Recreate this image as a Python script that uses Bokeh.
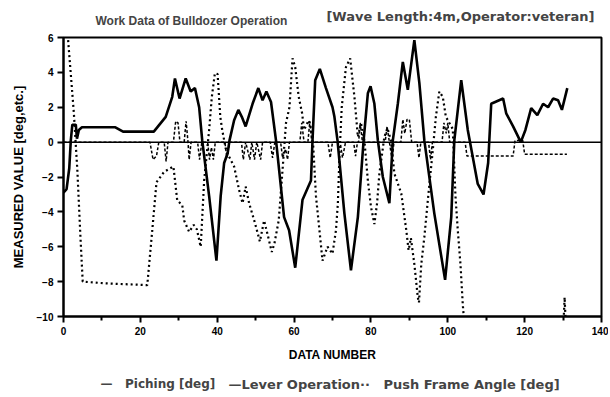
from bokeh.plotting import figure
from bokeh.models import Span, Title, Range1d, FixedTicker
from bokeh.embed import file_html
from bokeh.resources import INLINE

# ---- data ----
pich_x = [0, 0.8, 1.5, 1.9, 2.3, 3.2, 3.5, 4.0, 4.8, 13.5, 15.5, 23.5, 26.6, 28.3, 29.0, 30.2,
          31.8, 33.1, 34.2, 35.3, 36.1, 37.9, 39.8, 40.9, 41.8, 42.7, 43.2, 44.4, 45.5, 46.4,
          47.4, 49.2, 50.7, 51.8, 52.8, 54.0, 55.3, 57.4, 58.7, 60.3, 62.2, 64.4, 64.8, 65.5,
          66.7, 68.3, 70.0, 70.5, 71.3, 73.1, 74.8, 76.6, 78.1, 79.2, 79.9, 80.9, 81.8, 83.1,
          84.8, 85.7, 87.0, 88.3, 89.6, 91.3, 92.6, 93.9, 96.5, 99.3, 100.9, 101.7, 103.5,
          105.2, 107.8, 109.3, 110.5, 111.3, 114.4, 115.2, 117.0, 119.0, 120.2, 121.7, 123.3,
          124.8, 126.1, 127.4, 128.7, 129.7, 131.1]
pich_y = [-2.9, -2.7, -1.5, 0.1, 1.0, 1.0, 0.2, 0.7, 0.85, 0.85, 0.6, 0.6, 1.45, 2.6, 3.65, 2.5,
          3.65, 2.9, 3.1, 2.0, 0.1, -3.1, -6.8, -3.1, -1.2, -0.65, 0.1, 1.25, 1.85, 1.45,
          0.9, 2.2, 3.1, 2.4, 2.9, 2.3, 0.1, -4.3, -5.05, -7.2, -3.3, -2.2, 0.1, 3.55,
          4.2, 3.1, 2.0, 1.45, 0.1, -4.1, -7.35, -4.3, 0.1, 2.8, 3.2, 2.2, 0.1, -2.0,
          -3.5, 0.1, 2.2, 4.6, 3.0, 5.85, 3.4, 0.1, -4.1, -7.9, -4.3, 0.1, 3.55,
          0.7, -2.4, -3.0, -1.2, 2.2, 2.5, 1.65, 0.9, 0.0, 0.7, 1.95, 1.55,
          2.2, 2.0, 2.5, 2.4, 1.85, 3.1]

push_x = [1.2, 2.7, 3.6, 4.4, 5.0, 10.9, 21.8, 23.1, 24.2, 26.2, 28.6, 29.6, 30.9, 31.4, 32.7,
          33.9, 34.7, 35.7, 36.6, 37.9, 38.6, 39.4, 40.1, 40.8, 41.3, 42.2, 43.0, 44.4, 45.7,
          46.6, 47.4, 48.3, 49.9, 51.1, 52.2, 53.0, 54.2, 54.9, 56.0, 57.0, 57.9, 58.8, 59.6,
          60.3, 61.2, 62.1, 62.6, 63.8, 64.8, 65.7, 66.6, 67.4, 68.7, 70.0, 70.9, 71.4, 71.8,
          72.4, 73.5, 74.6, 75.7, 76.6, 77.4, 78.3, 79.2, 80.0, 80.9, 81.6, 82.2, 83.5, 84.3,
          85.2, 86.1, 87.9, 89.2, 89.8, 90.4, 91.3, 92.2, 92.5, 93.1, 93.9, 94.8, 96.1, 96.9,
          97.8, 98.7, 99.5, 100.4, 101.3, 102.0, 102.6, 103.3, 103.9, 104.5, 130.0, 130.4, 130.8]
push_y = [5.85, 1.65, -1.6, -5.4, -8.0, -8.1, -8.2, -5.05, -2.3, -1.7, -1.4, -3.35, -3.6, -4.5, -5.15,
          -4.75, -5.0, -6.0, -2.2, 0.7, 2.6, 3.95, 3.9, 1.45, 0.7, -0.35, -0.8, -1.4, -2.75,
          -3.5, -2.55, -3.5, -4.7, -5.7, -4.5, -5.2, -6.3, -5.8, -4.5, -1.6, 1.1, 2.0, 4.8,
          4.3, 2.6, 1.65, 0.7, 1.25, 0.5, -3.1, -5.05, -6.8, -6.0, -6.4, -5.05, -3.5, -0.85,
          2.0, 4.3, 4.8, 2.6, 0.3, 1.1, 0.1, -2.2, -3.7, -4.7, -3.5, -1.8, 0.3, 0.8,
          0.1, -1.8, -2.95, -5.05, -6.2, -5.5, -7.0, -8.9, -9.2, -7.0, -5.45, -3.35, -0.45, 1.45,
          2.9, 2.6, 1.45, 1.1, 0.75, -3.1, -5.05, -7.0, -9.3, -11.0, -11.0, -8.9, -11.0]

lever_x = [0, 22.5, 23.3, 24.2, 24.8, 26.2, 26.7, 27.2, 28.6, 29.2, 29.8, 30.3, 31.4, 31.9, 32.4,
           32.7, 33.2, 34.9, 35.4, 36.0, 37.5, 38.0, 38.5, 39.0, 39.5, 42.0, 42.5, 43.3, 46.3,
           46.8, 47.4, 48.5, 49.0, 49.7, 50.3, 51.3, 51.8, 53.8, 54.4, 55.0, 56.5, 57.0, 57.8,
           58.3, 58.8, 61.5, 62.0, 62.6, 63.6, 64.1, 64.6, 68.8, 69.4, 70.0, 72.0, 72.6, 73.4,
           75.5, 76.0, 76.5, 76.8, 77.2, 77.8, 83.7, 84.2, 84.8, 85.5, 86.0, 87.8, 88.3, 88.8,
           89.4, 90.0, 90.6, 92.0, 92.5, 93.0, 95.0, 95.5, 96.0, 98.5, 99.0, 99.6, 100.0, 100.5,
           104.5, 105.0, 117.0, 117.5, 119.5, 120.0, 131.0]
lever_y = [0, 0, -1.0, -0.8, 0, 0, -1.1, 0, 0, 1.2, 1.1, 0, 0, 1.2, 0,
           -1.0, 0, 0, -1.0, 0, 0, -1.0, -0.3, -1.0, 0, 0, -0.9, 0, 0,
           -1.0, 0, -1.0, 0, -1.0, 0, -1.0, 0, 0, -0.9, 0, 0, -0.9, -0.4,
           -1.0, 0, 0, 1.1, 0, 0, 1.2, 0, 0, -0.9, 0, 0, -0.9, 0,
           0, -0.8, 0, 0, 1.1, 0, 0, 0.9, 0, -1.0, 0, 0, 1.3, 0.5,
           1.3, 1.3, 0, 0, -0.9, 0, 0, -1.0, 0, 0, 1.1, 0.5, 1.1, 0,
           0, -0.8, -0.8, 0.1, 0.1, -0.7, -0.7]

x_ticks = [0, 20, 40, 60, 80, 100, 120, 140]
x_minor = [10, 30, 50, 70, 90, 110, 130]
y_ticks = [-10, -8, -6, -4, -2, 0, 2, 4, 6]

series_names = ["Piching [deg]", "Lever Operation", "Push Frame Angle [deg]"]

FONT = "Liberation Sans"
WIDE = "DejaVu Sans"
NB = "\u00a0"

p = figure(frame_width=538, frame_height=279, output_backend="svg", toolbar_location=None,
           x_range=Range1d(0, 140), y_range=Range1d(-10, 6),
           min_border_left=63, min_border_right=7, min_border_top=37, min_border_bottom=0)
p.grid.visible = False
p.outline_line_color = "black"
p.outline_line_width = 2
p.background_fill_color = "white"

for ax in (p.xaxis[0], p.yaxis[0]):
    ax.axis_line_width = 2
    ax.axis_line_color = "black"
    ax.major_tick_line_width = 2
    ax.major_tick_in = 0
    ax.major_tick_out = 6
    ax.minor_tick_in = 0
    ax.minor_tick_out = 4
    ax.minor_tick_line_width = 2
    ax.major_label_text_font = FONT
    ax.major_label_text_font_style = "bold"
    ax.major_label_text_font_size = "10px"
    ax.major_label_text_color = "black"
    ax.major_label_standoff = 4
    ax.axis_label_text_font = FONT
    ax.axis_label_text_font_style = "bold"
    ax.axis_label_text_color = "black"

p.xaxis.ticker = FixedTicker(ticks=x_ticks, minor_ticks=x_minor)
p.yaxis.ticker = FixedTicker(ticks=y_ticks, minor_ticks=[])
p.xaxis.axis_label = "DATA NUMBER"
p.xaxis.axis_label_text_font_size = "12px"
p.xaxis.axis_label_standoff = 10
p.yaxis.axis_label = "MEASURED VALUE [deg,etc.]"
p.yaxis.axis_label_text_font_size = "13px"
p.yaxis.axis_label_standoff = 8

p.add_layout(Span(location=0, dimension="width", line_color="black", line_width=1.5))

p.line(push_x, push_y, line_color="black", line_width=2.2, line_dash="2 3")
p.line(lever_x, lever_y, line_color="black", line_width=1.5, line_dash="3 2")
p.line(pich_x, pich_y, line_color="black", line_width=2.6)

# legend line, typed as in the original figure (two parts on one row)
leg_a = "\u2014" + NB * 3 + series_names[0]
leg_b = "\u2014" + series_names[1] + "\u00b7\u00b7" + NB * 3 + series_names[2]
p.add_layout(Title(text=leg_a, align="left", offset=37, vertical_align="bottom",
                   text_font=WIDE, text_font_style="bold", text_font_size="12px",
                   standoff=20), "below")
p.add_layout(Title(text=leg_b, align="left", offset=165, vertical_align="top",
                   text_font=WIDE, text_font_style="bold", text_font_size="13px",
                   standoff=-48), "below")

t_left = Title(text="Work Data of Bulldozer Operation", align="left", offset=32,
               text_font=FONT, text_font_style="bold", text_font_size="12px", standoff=19)
t_right = Title(text="[Wave Length:4m,Operator:veteran]", align="right", offset=7,
                text_font=WIDE, text_font_style="bold", text_font_size="13px",
                standoff=-42)
p.add_layout(t_left, "above")
p.add_layout(t_right, "above")

open("out.html", "w").write(file_html(p, INLINE))
